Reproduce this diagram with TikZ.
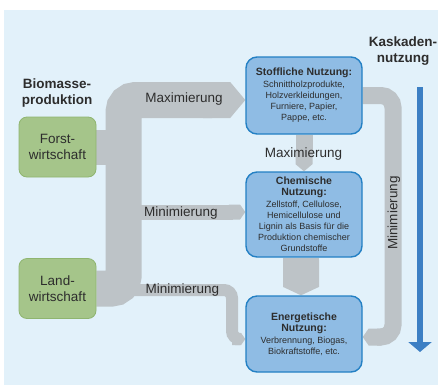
\documentclass[tikz,border=0pt]{standalone}
\usepackage{fontspec}
\setmainfont{Liberation Sans}
\usetikzlibrary{arrows.meta}
\usetikzlibrary{backgrounds}

\definecolor{bgblue}{RGB}{226,241,250}
\definecolor{boxblue}{RGB}{143,188,228}
\definecolor{lineblue}{RGB}{35,128,196}
\definecolor{boxgreen}{RGB}{165,197,138}
\definecolor{linegreen}{RGB}{143,181,112}
\definecolor{flowgray}{RGB}{189,195,199}
\definecolor{arrowblue}{RGB}{60,127,196}
\definecolor{txtgray}{RGB}{45,45,45}

\tikzset{
	usebox/.style={draw=lineblue, line width=1.4pt, fill=boxblue, rounded corners=11pt,
		minimum width=116pt, align=center, inner sep=2pt, text=txtgray,
		font=\fontsize{9}{11}\selectfont},
	prodbox/.style={draw=linegreen, line width=0.8pt, fill=boxgreen, rounded corners=8pt,
		minimum width=77pt, minimum height=60pt, align=center, text=txtgray,
		font=\fontsize{13.5}{16}\selectfont},
	flow/.style={draw=flowgray},
	flowlabel/.style={text=txtgray, inner sep=0pt, font=\fontsize{13.5}{16}\selectfont},
	headline/.style={text=txtgray, align=center, inner sep=0pt, font=\bfseries\fontsize{13.5}{16}\selectfont},
}
\newcommand{\boxtitle}[1]{{\bfseries\fontsize{10.5}{12}\selectfont #1}}

\begin{document}
\begin{tikzpicture}[x=1pt,y=-1pt]
	\useasboundingbox (0,0) rectangle (438,389);
	
	%production
	\node[prodbox] (forst) at (57.5,147) {Forst-\\wirtschaft};
	\node[prodbox] (land) at (57.5,288.5) {Land-\\wirtschaft};
	\node[headline] (biomasse) at (57,93) {Biomasse-\\produktion};
	
	%uses
	\node[usebox, minimum height=77pt] (stoff) at (304,95.5)
		{\boxtitle{Stoffliche Nutzung:}\\[1pt] Schnittholzprodukte,\\ Holzverkleidungen,\\ Furniere, Papier,\\ Pappe, etc.};
	\node[usebox, minimum height=85pt] (chem) at (304,214.5)
		{\boxtitle{Chemische}\\ \boxtitle{Nutzung:}\\[1pt] Zellstoff, Cellulose,\\ Hemicellulose und\\ Lignin als Basis f\"ur die\\ Produktion chemischer\\ Grundstoffe};
	\node[usebox, minimum height=76pt] (energ) at (304,334)
		{\boxtitle{Energetische}\\ \boxtitle{Nutzung:}\\[1pt] Verbrennung, Biogas,\\ Biokraftstoffe, etc.};
	
	%cascade
	\node[headline] (kaskade) at (403,51) {Kaskaden-\\nutzung};
	\coordinate (cascTop) at (420,87);
	\coordinate (cascEnd) at (420,352);
	\draw[arrowblue, line width=6pt, -{Triangle[width=23pt,length=10pt]}] (cascTop) -- (cascEnd);
	
	%flows
	\begin{pgfonlayer}{background}
		\fill[bgblue] (4,10) rectangle (438,385);	%background
		\draw[flow, line width=35pt] (forst.east) -- (123.5,147);
		\draw[flow, line width=36pt, rounded corners=12pt, -{Triangle Cap[cap angle=100]}]
			(land.east) -- (123.5,288.5) -- (123.5,100) -- (stoff.west |- 0,100);	%trunk
		\draw[flow, line width=15pt, -{Triangle Cap[cap angle=110]}] (130,212) -- (chem.west |- 0,212);
		\draw[flow, line width=12pt, rounded corners=8pt, -{Triangle Cap[cap angle=110]}]
			(130,290) -- (232,290) -- (232,339) -- (energ.west |- 0,339);
		\draw[flow, line width=17pt, -{Triangle Cap[cap angle=100]}] (stoff.south) -- (chem.north);
		\draw[flow, line width=36pt, -{Triangle Cap[cap angle=130]}] ([xshift=-3pt]chem.south) -- ([xshift=-3pt]energ.north);
		\draw[flow, line width=17pt, rounded corners=12pt, -{Triangle Cap[cap angle=110]}]
			(stoff.east) -- (393,95.5) -- (393,337) -- (energ.east |- 0,337);	%loop
	\end{pgfonlayer}
	
	%labels
	\node[flowlabel] (maxtop) at (184,99) {Maximierung};
	\node[flowlabel] (minmid) at (181,213) {Minimierung};
	\node[flowlabel] (minlow) at (182.5,290) {Minimierung};
	\node[flowlabel] (maxmid) at (303.5,154) {Maximierung};
	\node[flowlabel, rotate=90] (minright) at (394,213) {Minimierung};
\end{tikzpicture}
\end{document}
